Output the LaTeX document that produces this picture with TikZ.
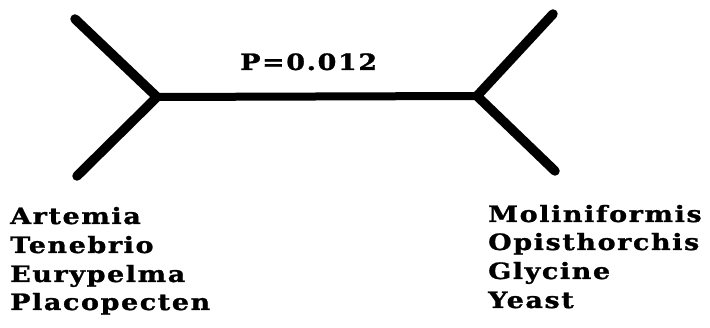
\documentclass[tikz,border=0pt]{standalone}
\usepackage{fontspec}
\setmainfont{DejaVu Serif}
\newfontfamily\labfont[LetterSpace=7,FakeStretch=1.2,FakeBold=1.2]{DejaVu Serif}
\begin{document}
\begin{tikzpicture}[x=1pt,y=-1pt,
  branch/.style={line width=9.5pt,line cap=round,line join=miter},
  taxon/.style={anchor=base west,inner sep=0pt,font=\labfont\bfseries\fontsize{22.5}{22.5}\selectfont}]
\useasboundingbox (0,0) rectangle (710,328);
\coordinate (L) at (157,97);
\coordinate (R) at (477,96);
\coordinate (LU) at (75,19);
\coordinate (LD) at (77,176);
\coordinate (RU) at (553,14);
\coordinate (RD) at (555,171);
\draw[branch] (LU) -- (L) -- (LD);
\draw[branch] (RU) -- (R) -- (RD);
\draw[line width=8pt] (L) -- (R);
\node[taxon] (p) at (240,70) {P=0.012};
\node[taxon] (a1) at (10,224) {Artemia};
\node[taxon] (a2) at (10,253) {Tenebrio};
\node[taxon] (a3) at (10,282) {Eurypelma};
\node[taxon] (a4) at (10,310) {Placopecten};
\node[taxon] (b1) at (488,222) {Moliniformis};
\node[taxon] (b2) at (488,250) {Opisthorchis};
\node[taxon] (b3) at (488,279) {Glycine};
\node[taxon] (b4) at (488,308) {Yeast};
\end{tikzpicture}
\end{document}
